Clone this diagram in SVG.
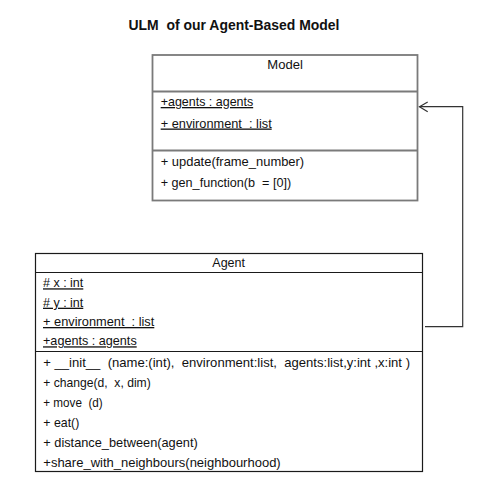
<svg xmlns="http://www.w3.org/2000/svg" width="498" height="497" viewBox="0 0 498 497">
<style>
text{font-family:"Liberation Sans",Arial,sans-serif;font-size:13px;fill:#111}
.title{font-weight:bold;font-size:15px}
.u{text-decoration:underline}
.gbox{fill:#fff;stroke:#7a7a7a;stroke-width:1.8}
.gline{stroke:#7a7a7a;stroke-width:1.8}
.bbox{fill:#fff;stroke:#1a1a1a;stroke-width:1.2}
.bline{stroke:#1a1a1a;stroke-width:1.2}
.conn{fill:none;stroke:#333;stroke-width:1.2}
</style>
<rect width="498" height="497" fill="#fff"/>
<text class="title" x="128.5" y="30" textLength="211" lengthAdjust="spacingAndGlyphs" xml:space="preserve">ULM  of our Agent-Based Model</text>
<g id="model">
<rect class="gbox" x="152.5" y="55" width="265" height="145.5"/>
<line class="gline" x1="152.5" y1="91.5" x2="417.5" y2="91.5"/>
<line class="gline" x1="152.5" y1="150.5" x2="417.5" y2="150.5"/>
<text x="267.3" y="69" textLength="35.5" lengthAdjust="spacingAndGlyphs">Model</text>
<text class="u" x="160.7" y="106" textLength="92.5" lengthAdjust="spacingAndGlyphs">+agents : agents</text>
<text class="u" x="160.7" y="127.5" textLength="111" lengthAdjust="spacingAndGlyphs" xml:space="preserve">+ environment  : list</text>
<text x="160.7" y="165.5" textLength="143.5" lengthAdjust="spacingAndGlyphs">+ update(frame_number)</text>
<text x="160.7" y="186.5" textLength="130.5" lengthAdjust="spacingAndGlyphs" xml:space="preserve">+ gen_function(b  = [0])</text>
</g>
<g id="agent">
<rect class="bbox" x="35.5" y="253.5" width="387" height="218"/>
<line class="bline" x1="35.5" y1="272.5" x2="422.5" y2="272.5"/>
<line class="bline" x1="35.5" y1="351.5" x2="422.5" y2="351.5"/>
<text x="212.3" y="267.3" textLength="32.7" lengthAdjust="spacingAndGlyphs">Agent</text>
<text class="u" x="43" y="287.3" textLength="40.3" lengthAdjust="spacingAndGlyphs"># x : int</text>
<text class="u" x="43" y="306.7" textLength="40.3" lengthAdjust="spacingAndGlyphs"># y : int</text>
<text class="u" x="43" y="326" textLength="111.3" lengthAdjust="spacingAndGlyphs" xml:space="preserve">+ environment  : list</text>
<text class="u" x="43" y="345.3" textLength="93.7" lengthAdjust="spacingAndGlyphs">+agents : agents</text>
<text x="43.3" y="367" textLength="366.7" lengthAdjust="spacingAndGlyphs" xml:space="preserve">+ __init__  (name:(int),  environment:list,  agents:list,y:int ,x:int )</text>
<text x="43.3" y="387" textLength="107.4" lengthAdjust="spacingAndGlyphs" xml:space="preserve">+ change(d,  x, dim)</text>
<text x="43.3" y="407" textLength="59.4" lengthAdjust="spacingAndGlyphs" xml:space="preserve">+ move  (d)</text>
<text x="43.3" y="427" textLength="36" lengthAdjust="spacingAndGlyphs">+ eat()</text>
<text x="43.3" y="447" textLength="154.4" lengthAdjust="spacingAndGlyphs">+ distance_between(agent)</text>
<text x="43.3" y="467" textLength="237.4" lengthAdjust="spacingAndGlyphs">+share_with_neighbours(neighbourhood)</text>
</g>
<g id="connectors">
<polyline class="conn" points="425,326.7 462.7,326.7 462.7,106.7 419.5,106.7"/>
<polyline class="conn" points="427.7,102 419.5,106.7 427.7,111.7"/>
</g>
</svg>
